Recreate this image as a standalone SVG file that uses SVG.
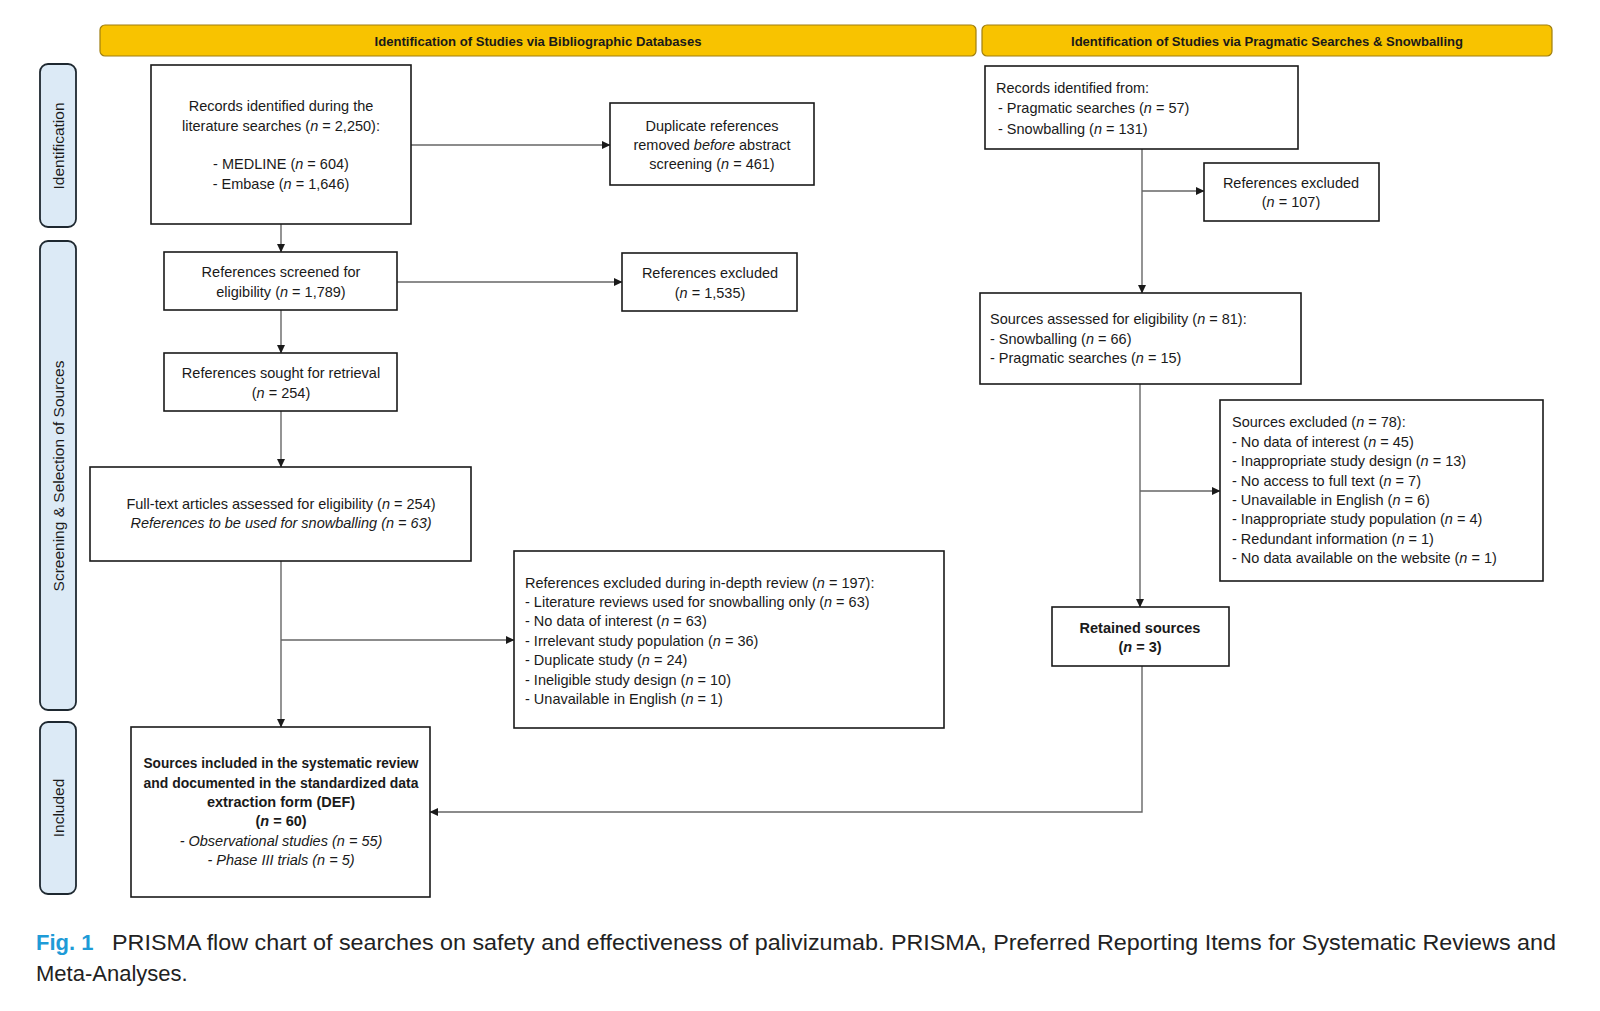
<svg xmlns="http://www.w3.org/2000/svg" width="1600" height="1011" viewBox="0 0 1600 1011">
<style>
text{font-family:"Liberation Sans",Arial,sans-serif;font-size:14.5px;fill:#1a1a1a}
.c{text-anchor:middle}
.b{font-weight:bold}
.i{font-style:italic}
.box{fill:#fff;stroke:#1a1a1a;stroke-width:1.6}
.hdr{fill:#F8C300;stroke:#A07F10;stroke-width:1.2}
.hdt{font-size:13.5px;font-weight:bold;text-anchor:middle}
.pill{fill:#DCEAF6;stroke:#1E2830;stroke-width:1.8}
.side{font-size:15.5px;text-anchor:middle}
.con line,.con polyline{stroke:#666;stroke-width:1.4;fill:none}
.cap{font-size:22px;fill:#222}
</style>
<defs>
<marker id="ah" markerWidth="9" markerHeight="9" refX="8" refY="4.5" orient="auto" markerUnits="userSpaceOnUse">
<path d="M0,0.5 L8.5,4.5 L0,8.5 z" fill="#1a1a1a"/>
</marker>
</defs>
<rect width="1600" height="1011" fill="#fff"/>

<g id="hdr-left"><rect class="hdr" x="100" y="25" width="876" height="31" rx="5"/><text class="hdt" x="538" y="45.5" textLength="327" lengthAdjust="spacingAndGlyphs">Identification of Studies via Bibliographic Databases</text></g>
<g id="hdr-right"><rect class="hdr" x="982" y="25" width="570" height="31" rx="5"/><text class="hdt" x="1267" y="45.5" textLength="392" lengthAdjust="spacingAndGlyphs">Identification of Studies via Pragmatic Searches &amp; Snowballing</text></g>

<g id="lane-identification"><rect class="pill" x="40" y="64" width="36" height="163" rx="8"/><text class="side" transform="translate(64,146) rotate(-90)">Identification</text></g>
<g id="lane-screening"><rect class="pill" x="40" y="241" width="36" height="469" rx="8"/><text class="side" transform="translate(64,476) rotate(-90)">Screening &amp; Selection of Sources</text></g>
<g id="lane-included"><rect class="pill" x="40" y="722" width="36" height="172" rx="8"/><text class="side" transform="translate(64,808) rotate(-90)">Included</text></g>

<g class="con" id="connectors">
<line x1="411" y1="145" x2="610" y2="145" marker-end="url(#ah)"/>
<line x1="281" y1="224" x2="281" y2="252" marker-end="url(#ah)"/>
<line x1="397" y1="282" x2="622" y2="282" marker-end="url(#ah)"/>
<line x1="281" y1="310" x2="281" y2="353" marker-end="url(#ah)"/>
<line x1="281" y1="411" x2="281" y2="467" marker-end="url(#ah)"/>
<line x1="281" y1="561" x2="281" y2="727" marker-end="url(#ah)"/>
<line x1="281" y1="640" x2="514" y2="640" marker-end="url(#ah)"/>
<line x1="1142" y1="149" x2="1142" y2="293" marker-end="url(#ah)"/>
<line x1="1142" y1="191" x2="1204" y2="191" marker-end="url(#ah)"/>
<line x1="1140" y1="384" x2="1140" y2="607" marker-end="url(#ah)"/>
<line x1="1140" y1="491" x2="1220" y2="491" marker-end="url(#ah)"/>
<polyline points="1142,666 1142,812 430,812" marker-end="url(#ah)"/>
</g>

<g id="records-db"><rect class="box" x="151" y="65" width="260" height="159"/>
<text class="c" x="281" y="111">Records identified during the</text>
<text class="c" x="281" y="131">literature searches (<tspan class="i">n</tspan> = 2,250):</text>
<text class="c" x="281" y="169">- MEDLINE (<tspan class="i">n</tspan> = 604)</text>
<text class="c" x="281" y="189">- Embase (<tspan class="i">n</tspan> = 1,646)</text></g>

<g id="duplicates"><rect class="box" x="610" y="103" width="204" height="82"/>
<text class="c" x="712" y="131">Duplicate references</text>
<text class="c" x="712" y="150">removed <tspan class="i">before</tspan> abstract</text>
<text class="c" x="712" y="169">screening (<tspan class="i">n</tspan> = 461)</text></g>

<g id="screened"><rect class="box" x="164" y="252" width="233" height="58"/>
<text class="c" x="281" y="277">References screened for</text>
<text class="c" x="281" y="297">eligibility (<tspan class="i">n</tspan> = 1,789)</text></g>

<g id="excluded-1535"><rect class="box" x="622" y="253" width="175" height="58"/>
<text class="c" x="710" y="278">References excluded</text>
<text class="c" x="710" y="298">(<tspan class="i">n</tspan> = 1,535)</text></g>

<g id="sought"><rect class="box" x="164" y="353" width="233" height="58"/>
<text class="c" x="281" y="378">References sought for retrieval</text>
<text class="c" x="281" y="398">(<tspan class="i">n</tspan> = 254)</text></g>

<g id="fulltext"><rect class="box" x="90" y="467" width="381" height="94"/>
<text class="c" x="281" y="509">Full-text articles assessed for eligibility (<tspan class="i">n</tspan> = 254)</text>
<text class="c i" x="281" y="528">References to be used for snowballing (n = 63)</text></g>

<g id="excluded-review"><rect class="box" x="514" y="551" width="430" height="177"/>
<text x="525" y="588">References excluded during in-depth review (<tspan class="i">n</tspan> = 197):</text>
<text x="525" y="607">- Literature reviews used for snowballing only (<tspan class="i">n</tspan> = 63)</text>
<text x="525" y="626">- No data of interest (<tspan class="i">n</tspan> = 63)</text>
<text x="525" y="646">- Irrelevant study population (<tspan class="i">n</tspan> = 36)</text>
<text x="525" y="665">- Duplicate study (<tspan class="i">n</tspan> = 24)</text>
<text x="525" y="685">- Ineligible study design (<tspan class="i">n</tspan> = 10)</text>
<text x="525" y="704">- Unavailable in English (<tspan class="i">n</tspan> = 1)</text></g>

<g id="included"><rect class="box" x="131" y="727" width="299" height="170"/>
<text class="c b" x="281" y="768" textLength="275" lengthAdjust="spacingAndGlyphs">Sources included in the systematic review</text>
<text class="c b" x="281" y="788" textLength="275" lengthAdjust="spacingAndGlyphs">and documented in the standardized data</text>
<text class="c b" x="281" y="807">extraction form (DEF)</text>
<text class="c b" x="281" y="826">(<tspan class="i">n</tspan> = 60)</text>
<text class="c i" x="281" y="846">- Observational studies (n = 55)</text>
<text class="c i" x="281" y="865">- Phase III trials (n = 5)</text></g>

<g id="records-other"><rect class="box" x="985" y="66" width="313" height="83"/>
<text x="996" y="93">Records identified from:</text>
<text x="998" y="113">- Pragmatic searches (<tspan class="i">n</tspan> = 57)</text>
<text x="998" y="134">- Snowballing (<tspan class="i">n</tspan> = 131)</text></g>

<g id="excluded-107"><rect class="box" x="1204" y="163" width="175" height="58"/>
<text class="c" x="1291" y="188">References excluded</text>
<text class="c" x="1291" y="207">(<tspan class="i">n</tspan> = 107)</text></g>

<g id="assessed"><rect class="box" x="980" y="293" width="321" height="91"/>
<text x="990" y="324">Sources assessed for eligibility (<tspan class="i">n</tspan> = 81):</text>
<text x="990" y="344">- Snowballing (<tspan class="i">n</tspan> = 66)</text>
<text x="990" y="363">- Pragmatic searches (<tspan class="i">n</tspan> = 15)</text></g>

<g id="excluded-78"><rect class="box" x="1220" y="400" width="323" height="181"/>
<text x="1232" y="427">Sources excluded (<tspan class="i">n</tspan> = 78):</text>
<text x="1232" y="447">- No data of interest (<tspan class="i">n</tspan> = 45)</text>
<text x="1232" y="466">- Inappropriate study design (<tspan class="i">n</tspan> = 13)</text>
<text x="1232" y="486">- No access to full text (<tspan class="i">n</tspan> = 7)</text>
<text x="1232" y="505">- Unavailable in English (<tspan class="i">n</tspan> = 6)</text>
<text x="1232" y="524">- Inappropriate study population (<tspan class="i">n</tspan> = 4)</text>
<text x="1232" y="544">- Redundant information (<tspan class="i">n</tspan> = 1)</text>
<text x="1232" y="563">- No data available on the website (<tspan class="i">n</tspan> = 1)</text></g>

<g id="retained"><rect class="box" x="1052" y="607" width="177" height="59"/>
<text class="c b" x="1140" y="633">Retained sources</text>
<text class="c b" x="1140" y="652">(<tspan class="i">n</tspan> = 3)</text></g>

<g id="caption">
<text class="cap b" x="36" y="950" style="fill:#1E9BD7">Fig. 1</text>
<text class="cap" x="112" y="950" textLength="1444" lengthAdjust="spacingAndGlyphs">PRISMA flow chart of searches on safety and effectiveness of palivizumab. PRISMA, Preferred Reporting Items for Systematic Reviews and</text>
<text class="cap" x="36" y="981">Meta-Analyses.</text>
</g>
</svg>
